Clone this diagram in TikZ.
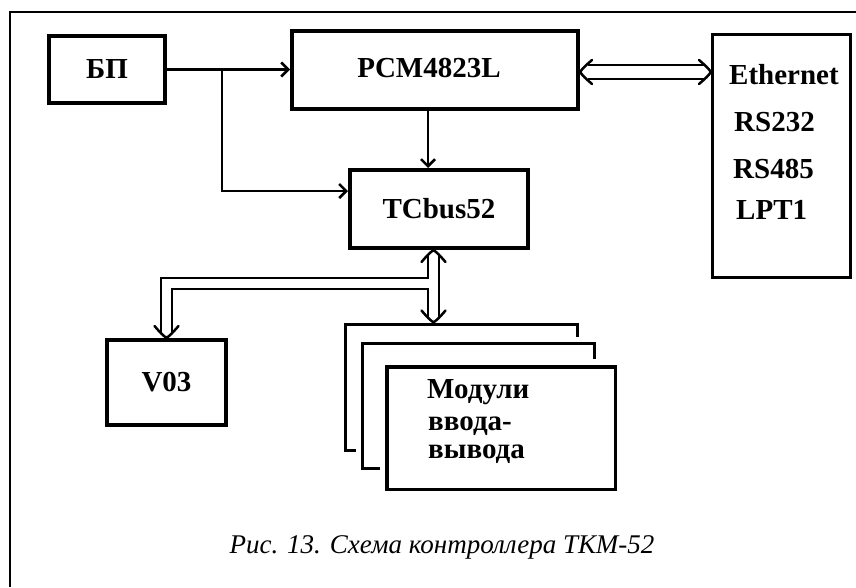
\documentclass[tikz,border=0pt]{standalone}
\usepackage{fontspec}
\setmainfont{Liberation Serif}
\usetikzlibrary{arrows.meta,calc}
\begin{document}
\begin{tikzpicture}[x=1pt,y=-1pt,
  boxnode/.style={draw,rectangle,inner sep=0pt,line width=4pt,font=\fontsize{29}{30}\selectfont\bfseries},
  lbl/.style={inner sep=0pt,font=\fontsize{29}{30}\selectfont\bfseries},
  conn/.style={line width=2.5pt,-{Straight Barb[length=7pt,width=14pt]}},
  busline/.style={line width=2.5pt},
  chev/.pic={\draw[line width=2.5pt,line cap=round,line join=round] (-12,-12) .. controls (-5,-4) .. (0,0) .. controls (5,-4) .. (12,-12);},
  ]
\useasboundingbox (0,0) rectangle (856,587);
% frame
\draw[line width=1.5pt] (10,587) -- (10,12) -- (856,12);
% boxes
\node[boxnode,minimum width=116pt,minimum height=67pt] (bp) at (107,69.5) {БП};
\node[boxnode,minimum width=286pt,minimum height=78pt] (pcm) at (435,70) {};
\node[lbl,anchor=base] (pcmlbl) at (429,77) {PCM4823L};
\node[boxnode,minimum width=178pt,minimum height=78pt] (tc) at (439,209) {TCbus52};
\node[boxnode,line width=3pt,minimum width=138pt,minimum height=243pt] (eth) at (781.5,156) {};
\node[lbl,anchor=base west] (l1) at (729,84) {Ethernet};
\node[lbl,anchor=base west] (l2) at (734,131) {RS232};
\node[lbl,anchor=base west] (l3) at (733,178) {RS485};
\node[lbl,anchor=base west] (l4) at (736,219) {LPT1};
\node[boxnode,minimum width=119pt,minimum height=85pt] (v03) at (166.5,382.5) {V03};
% module stack
\draw[line width=3pt] (356,450) -| (345,324) -| (577,337);
\draw[line width=3pt] (380,468) -| (362,343) -| (594,359);
\node[boxnode,line width=3.5pt,minimum width=228.5pt,minimum height=122.5pt] (mod) at (501,428) {};
\node[lbl,anchor=base west] (m1) at (427,398) {Модули};
\node[lbl,anchor=base west] (m2) at (428,430) {ввода-};
\node[lbl,anchor=base west] (m3) at (428,458) {вывода};
% caption
\node[inner sep=0pt,anchor=base,font=\fontsize{27}{28}\selectfont\itshape] (cap) at (442,553) {Рис. 13. Схема контроллера ТКМ-52};
% single connectors
\coordinate (j1) at (222,69.5);
\coordinate (c428) at (428,0);
\coordinate (tcin) at ($(tc.west)+(0,-18)$);
\draw[conn] (bp.east) -- (bp.east -| pcm.west);
\draw[conn] (j1) |- (tcin);
\draw[conn] (pcm.south -| c428) -- (tc.north -| c428);
% Ethernet bus (hollow double arrow)
\coordinate (ea) at ($(pcm.east)+(0,2)$);
\coordinate (eb) at (ea -| eth.west);
\draw[busline] ($(ea)+(7.5,-7)$) -- ($(eb)+(-7.5,-7)$);
\draw[busline] ($(ea)+(7.5,7)$) -- ($(eb)+(-7.5,7)$);
\pic[rotate=-90] at (ea) {chev};
\pic[rotate=90] at (eb) {chev};
% TCbus52 <-> modules bus with branch to V03
\coordinate (vb) at (433.5,0);
\coordinate (vt) at (tc.south -| vb);
\coordinate (vm) at (433.5,322.5);
\coordinate (br) at (433.5,283.5);
\coordinate (vv) at (v03.north);
\draw[busline] ($(vt)+(5.5,6)$) -- ($(vm)+(5.5,-6)$);
\draw[busline] ($(vt)+(-5.5,6)$) -- ($(br)+(-5.5,-5.5)$) -| ($(vv)+(-5.5,-6)$);
\draw[busline] ($(vm)+(-5.5,-6)$) -- ($(br)+(-5.5,5.5)$) -| ($(vv)+(5.5,-6)$);
\pic[rotate=180] at (vt) {chev};
\pic at (vm) {chev};
\pic at (vv) {chev};
\end{tikzpicture}
\end{document}
